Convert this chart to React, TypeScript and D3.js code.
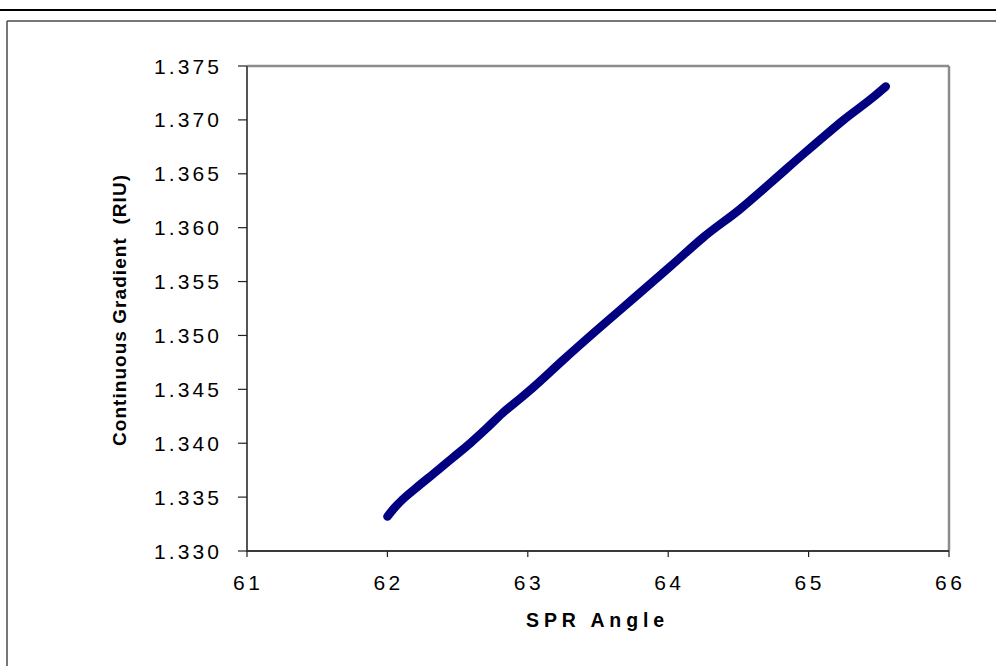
import React from "react";
import * as d3 from "d3";

const angle = [62.0, 62.05, 62.11, 62.2, 62.35, 62.47, 62.59, 62.7, 62.82, 62.95, 63.04, 63.25, 63.51, 63.75, 63.98, 64.05, 64.25, 64.51, 64.75, 64.96, 65.05, 65.25, 65.45, 65.55];
const gradient = [1.3332, 1.334, 1.3348, 1.3358, 1.3374, 1.3387, 1.34, 1.3413, 1.3428, 1.3442, 1.3452, 1.3477, 1.3507, 1.3534, 1.356, 1.3568, 1.3591, 1.3617, 1.3644, 1.3668, 1.3678, 1.37, 1.372, 1.3731];
const xTicks = [61, 62, 63, 64, 65, 66];
const yTicks = [1.33, 1.335, 1.34, 1.345, 1.35, 1.355, 1.36, 1.365, 1.37, 1.375];
const xTitle = "SPR Angle";
const yTitle = "Continuous Gradient  (RIU)";

const W = 996, H = 666;
const L = 247, R = 949, T = 66, B = 551;

export default function App() {
  const x = d3.scaleLinear().domain([61, 66]).range([L, R]);
  const y = d3.scaleLinear().domain([1.33, 1.375]).range([B, T]);
  const pts: [number, number][] = angle.map((a, i) => [a, gradient[i]]);
  const line = d3.line<[number, number]>().x(d => x(d[0])).y(d => y(d[1])).curve(d3.curveMonotoneX);
  const font = "'Liberation Sans', Arial, sans-serif";
  return (
    <svg width={W} height={H} style={{ position: "absolute", left: 0, top: 0, background: "#fff" }} fontFamily={font}>
      <rect x={0} y={0} width={W} height={H} fill="#fff" />
      <line x1={0} x2={W} y1={10} y2={10} stroke="#000" strokeWidth={2} />
      <line x1={7} x2={W} y1={21} y2={21} stroke="#4a4a4a" strokeWidth={1.5} />
      <line x1={7} x2={7} y1={21} y2={H} stroke="#4a4a4a" strokeWidth={1.5} />
      <line x1={L} x2={R} y1={T} y2={T} stroke="#8c8c8c" strokeWidth={2.5} />
      <line x1={R} x2={R} y1={T} y2={B} stroke="#8c8c8c" strokeWidth={2.5} />
      <line x1={L} x2={L} y1={T} y2={B + 1} stroke="#555" strokeWidth={2} />
      <line x1={L} x2={R} y1={B} y2={B} stroke="#3a3a3a" strokeWidth={2} />
      {yTicks.map(t => (
        <g key={"y" + t}>
          <line x1={L - 9} x2={L} y1={y(t)} y2={y(t)} stroke="#222" strokeWidth={1.2} />
          <text x={154} y={y(t)} dy="0.36em" fontSize={21} letterSpacing={3.1} fill="#000">
            {t.toFixed(3)}
          </text>
        </g>
      ))}
      {xTicks.map(t => (
        <g key={"x" + t}>
          <line x1={x(t)} x2={x(t)} y1={B} y2={B + 6} stroke="#222" strokeWidth={1.2} />
          <text x={x(t) - 14} y={589.5} fontSize={21} letterSpacing={3.5} fill="#000">
            {t}
          </text>
        </g>
      ))}
      <path d={line(pts) || ""} fill="none" stroke="#000080" strokeWidth={8.5} strokeLinecap="round" strokeLinejoin="round" />
      <text x={526} y={626.5} fontSize={19.5} fontWeight="bold" letterSpacing={4.9} fill="#000">
        {xTitle}
      </text>
      <text transform={`translate(126,${(T + B) / 2 + 2}) rotate(-90)`} textAnchor="middle" fontSize={19} fontWeight="bold" textLength={271} lengthAdjust="spacing" style={{ whiteSpace: "pre" }} fill="#000">
        {yTitle}
      </text>
    </svg>
  );
}
